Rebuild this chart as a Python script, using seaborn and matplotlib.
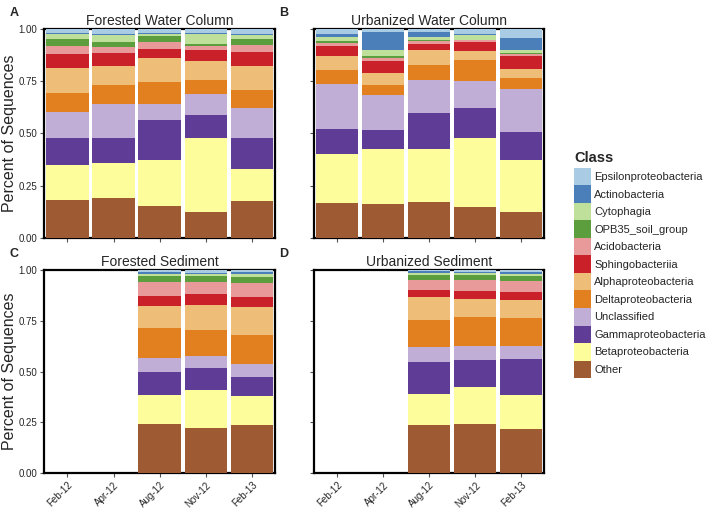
import numpy as np
import pandas as pd
import matplotlib
matplotlib.use("Agg")
import matplotlib.pyplot as plt
from matplotlib.patches import Patch
import seaborn as sns

sns.set_style("ticks")
plt.rcParams['font.family'] = ['Liberation Sans', 'DejaVu Sans']

dates = ["Feb-12", "Apr-12", "Aug-12", "Nov-12", "Feb-13"]
classes = ["Other", "Betaproteobacteria", "Gammaproteobacteria", "Unclassified",
           "Deltaproteobacteria", "Alphaproteobacteria", "Sphingobacteriia",
           "Acidobacteria", "OPB35_soil_group", "Cytophagia", "Actinobacteria",
           "Epsilonproteobacteria"]
colors = ["#9e5a32", "#fdfd9c", "#5f3d96", "#c0aed6", "#e2801f", "#eebe78",
          "#c9202a", "#e89a9a", "#5c9e3e", "#bfe09a", "#4a7fba", "#a9cce4"]

# proportions per date, in class order (bottom -> top)
forested_water = [
    [.180, .171, .126, .127, .088, .121, .064, .040, .032, .024, .005, .022],
    [.193, .166, .118, .164, .089, .093, .062, .027, .026, .033, .005, .024],
    [.152, .221, .192, .076, .105, .112, .045, .035, .029, .008, .005, .020],
    [.123, .355, .109, .099, .068, .093, .053, .017, .008, .051, .005, .019],
    [.175, .157, .145, .145, .085, .113, .070, .030, .029, .019, .005, .027],
]
urbanized_water = [
    [.167, .233, .122, .215, .065, .066, .051, .012, .008, .023, .014, .024],
    [.163, .263, .092, .165, .049, .054, .062, .010, .010, .030, .088, .014],
    [.174, .252, .169, .161, .072, .072, .028, .011, .008, .013, .026, .014],
    [.150, .330, .140, .131, .099, .042, .044, .008, .003, .021, .008, .024],
    [.126, .247, .133, .208, .052, .043, .062, .006, .007, .014, .059, .043],
]
forested_sediment = [
    None,
    None,
    [.243, .144, .113, .069, .145, .112, .046, .070, .030, .010, .008, .010],
    [.220, .190, .106, .061, .130, .122, .053, .060, .030, .010, .006, .012],
    [.237, .145, .092, .064, .145, .136, .049, .070, .031, .011, .012, .008],
]
urbanized_sediment = [
    None,
    None,
    [.237, .153, .159, .071, .137, .111, .033, .051, .023, .012, .008, .005],
    [.243, .181, .132, .072, .143, .089, .038, .056, .021, .010, .007, .008],
    [.215, .172, .174, .066, .139, .086, .041, .053, .026, .010, .010, .008],
]

panels = [
    ("A", "Forested Water Column", forested_water),
    ("B", "Urbanized Water Column", urbanized_water),
    ("C", "Forested Sediment", forested_sediment),
    ("D", "Urbanized Sediment", urbanized_sediment),
]

W, H = 708, 511
fig = plt.figure(figsize=(W / 100, H / 100), dpi=100)

boxes = {
    "A": (44.3, 28.7, 275.0, 238.0),
    "B": (314.0, 28.7, 544.3, 238.0),
    "C": (44.3, 270.3, 275.0, 473.0),
    "D": (314.0, 270.3, 544.3, 473.0),
}

for letter, title, data in panels:
    x0, y0, x1, y1 = boxes[letter]
    ax = fig.add_axes([x0 / W, 1 - y1 / H, (x1 - x0) / W, (y1 - y0) / H])
    rows = []
    for d, props in zip(dates, data):
        if props is None:
            continue
        cum = np.cumsum(props)
        cum = cum / cum[-1]
        for c, v in zip(classes, cum):
            rows.append({"date": d, "cls": c, "top": v})
    df = pd.DataFrame(rows)
    for c, col in reversed(list(zip(classes, colors))):
        sub = df[df["cls"] == c]
        sns.barplot(data=sub, x="date", y="top", order=dates, color=col,
                    width=0.92, errorbar=None, linewidth=0, saturation=1,
                    zorder=3, ax=ax)
    ax.set_xlim(-0.5, 4.5)
    ax.set_ylim(0, 1)
    ax.set_yticks([0, 0.25, 0.5, 0.75, 1.0])
    ax.set_xlabel("")
    ax.set_ylabel("")
    for s in ax.spines.values():
        s.set_visible(True)
        s.set_color("black")
        s.set_linewidth(1.6)
        s.set_zorder(2)
    ax.tick_params(axis="both", direction="out", length=3, width=0.8,
                   color="#555555", labelsize=7, pad=2)
    if letter in ("A", "C"):
        ax.set_yticklabels(["0.00", "0.25", "0.50", "0.75", "1.00"])
        ax.set_ylabel("Percent of Sequences", fontsize=11.5, labelpad=1)
    else:
        ax.set_yticklabels([])
    ax.set_xticks(range(len(dates)))
    if letter in ("C", "D"):
        ax.set_xticklabels(dates, rotation=45, ha="right",
                           rotation_mode="anchor", fontsize=7)
    else:
        ax.set_xticklabels([])
    ax.set_title(title, fontsize=10, pad=3)
    fig.text((x0 - 35) / W, 1 - (y0 - 16) / H, letter, fontsize=9,
             fontweight="bold", va="center", ha="left")

handles = [Patch(facecolor=col, edgecolor="none", label=c)
           for c, col in zip(classes, colors)][::-1]
leg = fig.legend(handles=handles, loc="upper left",
                 bbox_to_anchor=(574 / W, 1 - 151 / H), frameon=False,
                 fontsize=8, title="Class", alignment="left",
                 title_fontproperties={"weight": "bold", "size": 10.5},
                 handlelength=1.53, handleheight=2.05, labelspacing=0,
                 handletextpad=0.3, borderpad=0, borderaxespad=0)
leg._legend_box.sep = 2

fig.savefig("out.png", dpi=100)
